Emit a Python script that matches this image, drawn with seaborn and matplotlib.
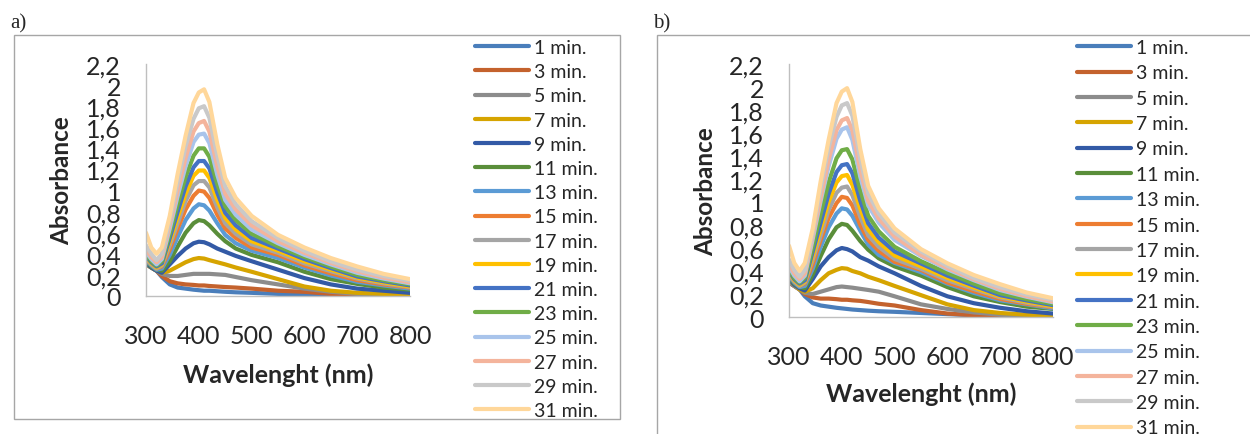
import numpy as np
import pandas as pd
import seaborn as sns
import matplotlib.pyplot as plt
from matplotlib.lines import Line2D
from matplotlib.patches import Rectangle

# wavelengths (nm)
wl = [300, 310, 320, 330, 345, 360, 375, 390, 400, 410, 420, 435, 450, 470, 500, 550, 600, 650, 700, 750, 800]

times = ['1 min.', '3 min.', '5 min.', '7 min.', '9 min.', '11 min.', '13 min.', '15 min.',
         '17 min.', '19 min.', '21 min.', '23 min.', '25 min.', '27 min.', '29 min.', '31 min.']

colors = ['#4A7EBB', '#C4622D', '#8C8C8C', '#D6A400', '#335AA6', '#5A8E3A', '#5B9BD5', '#ED7D31',
          '#A5A5A5', '#FFC000', '#4472C4', '#70AD47', '#A9C4EB', '#F4B49C', '#C9C9C9', '#FFD79A']

# panel a) absorbance
a01 = [0.32, 0.28, 0.24, 0.18, 0.11, 0.08, 0.07, 0.06, 0.055, 0.05, 0.05, 0.045, 0.04, 0.035, 0.03, 0.02, 0.015, 0.01, 0.005, 0.0, 0.0]
a03 = [0.31, 0.27, 0.24, 0.19, 0.14, 0.12, 0.11, 0.105, 0.10, 0.10, 0.095, 0.09, 0.085, 0.08, 0.07, 0.05, 0.04, 0.02, 0.01, 0.005, 0.0]
a05 = [0.30, 0.27, 0.24, 0.21, 0.19, 0.19, 0.20, 0.21, 0.21, 0.21, 0.21, 0.205, 0.20, 0.18, 0.15, 0.11, 0.07, 0.04, 0.02, 0.01, 0.01]
a07 = [0.30, 0.27, 0.24, 0.22, 0.24, 0.28, 0.32, 0.35, 0.36, 0.355, 0.34, 0.32, 0.30, 0.27, 0.23, 0.16, 0.09, 0.05, 0.03, 0.02, 0.01]
a09 = [0.31, 0.27, 0.24, 0.22, 0.30, 0.38, 0.45, 0.50, 0.515, 0.51, 0.49, 0.45, 0.42, 0.38, 0.33, 0.25, 0.17, 0.11, 0.07, 0.05, 0.03]
a11 = [0.33, 0.28, 0.25, 0.24, 0.33, 0.47, 0.60, 0.69, 0.72, 0.71, 0.67, 0.59, 0.52, 0.45, 0.39, 0.32, 0.23, 0.16, 0.115, 0.08, 0.06]
a13 = [0.34, 0.29, 0.25, 0.26, 0.39, 0.56, 0.72, 0.83, 0.87, 0.86, 0.81, 0.69, 0.58, 0.50, 0.43, 0.36, 0.27, 0.195, 0.135, 0.10, 0.07]
a15 = [0.35, 0.30, 0.26, 0.28, 0.44, 0.64, 0.82, 0.95, 1.00, 0.99, 0.93, 0.77, 0.64, 0.55, 0.46, 0.39, 0.29, 0.215, 0.15, 0.11, 0.08]
a17 = [0.36, 0.30, 0.26, 0.29, 0.48, 0.69, 0.90, 1.05, 1.09, 1.09, 1.03, 0.84, 0.69, 0.59, 0.49, 0.41, 0.31, 0.235, 0.165, 0.12, 0.085]
a19 = [0.37, 0.31, 0.27, 0.30, 0.52, 0.75, 0.97, 1.14, 1.19, 1.19, 1.12, 0.91, 0.74, 0.63, 0.52, 0.43, 0.33, 0.25, 0.175, 0.13, 0.09]
a21 = [0.38, 0.32, 0.28, 0.31, 0.55, 0.80, 1.04, 1.22, 1.28, 1.28, 1.21, 0.98, 0.79, 0.67, 0.55, 0.45, 0.35, 0.265, 0.185, 0.14, 0.10]
a23 = [0.40, 0.33, 0.29, 0.33, 0.59, 0.87, 1.13, 1.33, 1.40, 1.40, 1.32, 1.06, 0.85, 0.72, 0.59, 0.47, 0.37, 0.28, 0.20, 0.15, 0.11]
a25 = [0.42, 0.35, 0.30, 0.35, 0.64, 0.95, 1.23, 1.46, 1.53, 1.54, 1.45, 1.15, 0.91, 0.77, 0.63, 0.50, 0.39, 0.30, 0.22, 0.165, 0.12]
a27 = [0.44, 0.37, 0.32, 0.37, 0.68, 1.00, 1.31, 1.56, 1.64, 1.66, 1.56, 1.23, 0.97, 0.82, 0.67, 0.52, 0.41, 0.315, 0.235, 0.175, 0.13]
a29 = [0.48, 0.40, 0.34, 0.40, 0.72, 1.08, 1.42, 1.68, 1.78, 1.80, 1.69, 1.33, 1.04, 0.87, 0.71, 0.55, 0.43, 0.33, 0.25, 0.19, 0.145]
a31 = [0.60, 0.46, 0.40, 0.46, 0.76, 1.16, 1.52, 1.83, 1.93, 1.96, 1.84, 1.44, 1.12, 0.93, 0.76, 0.58, 0.46, 0.36, 0.28, 0.21, 0.16]

# panel b) absorbance
b01 = [0.30, 0.27, 0.24, 0.18, 0.12, 0.10, 0.09, 0.08, 0.075, 0.07, 0.065, 0.06, 0.055, 0.05, 0.045, 0.035, 0.025, 0.015, 0.01, 0.005, 0.0]
b03 = [0.30, 0.27, 0.24, 0.20, 0.17, 0.16, 0.16, 0.155, 0.15, 0.15, 0.145, 0.14, 0.13, 0.115, 0.10, 0.06, 0.03, 0.015, 0.01, 0.005, 0.0]
b05 = [0.31, 0.27, 0.24, 0.21, 0.20, 0.22, 0.24, 0.26, 0.265, 0.26, 0.255, 0.245, 0.235, 0.22, 0.18, 0.11, 0.07, 0.04, 0.02, 0.01, 0.01]
b07 = [0.32, 0.28, 0.24, 0.22, 0.25, 0.32, 0.38, 0.41, 0.425, 0.42, 0.40, 0.38, 0.35, 0.32, 0.27, 0.19, 0.11, 0.06, 0.035, 0.02, 0.01]
b09 = [0.33, 0.28, 0.25, 0.23, 0.33, 0.44, 0.52, 0.58, 0.60, 0.59, 0.57, 0.52, 0.49, 0.44, 0.38, 0.27, 0.18, 0.12, 0.08, 0.05, 0.03]
b11 = [0.35, 0.29, 0.26, 0.25, 0.37, 0.53, 0.675, 0.78, 0.81, 0.80, 0.75, 0.66, 0.585, 0.51, 0.44, 0.36, 0.26, 0.18, 0.13, 0.09, 0.07]
b13 = [0.36, 0.30, 0.26, 0.27, 0.42, 0.61, 0.78, 0.90, 0.945, 0.935, 0.88, 0.75, 0.63, 0.54, 0.47, 0.39, 0.29, 0.21, 0.145, 0.11, 0.075]
b15 = [0.37, 0.31, 0.27, 0.29, 0.46, 0.67, 0.86, 0.99, 1.045, 1.035, 0.97, 0.80, 0.67, 0.575, 0.48, 0.41, 0.30, 0.225, 0.157, 0.115, 0.084]
b17 = [0.38, 0.31, 0.27, 0.30, 0.50, 0.71, 0.93, 1.08, 1.125, 1.135, 1.06, 0.87, 0.71, 0.61, 0.505, 0.42, 0.32, 0.243, 0.17, 0.124, 0.088]
b19 = [0.39, 0.32, 0.28, 0.31, 0.535, 0.77, 1.00, 1.17, 1.225, 1.235, 1.15, 0.94, 0.76, 0.65, 0.535, 0.44, 0.34, 0.257, 0.18, 0.134, 0.093]
b21 = [0.40, 0.33, 0.29, 0.32, 0.57, 0.82, 1.07, 1.26, 1.32, 1.33, 1.25, 1.01, 0.815, 0.69, 0.57, 0.465, 0.36, 0.273, 0.19, 0.144, 0.103]
b23 = [0.42, 0.34, 0.30, 0.34, 0.61, 0.90, 1.17, 1.38, 1.45, 1.46, 1.37, 1.10, 0.88, 0.745, 0.61, 0.485, 0.383, 0.29, 0.207, 0.155, 0.114]
b25 = [0.44, 0.36, 0.31, 0.36, 0.68, 1.01, 1.31, 1.55, 1.63, 1.65, 1.54, 1.22, 0.97, 0.82, 0.67, 0.53, 0.415, 0.32, 0.234, 0.176, 0.128]
b27 = [0.46, 0.38, 0.33, 0.38, 0.71, 1.04, 1.365, 1.625, 1.71, 1.73, 1.625, 1.28, 1.01, 0.855, 0.70, 0.54, 0.427, 0.328, 0.245, 0.182, 0.135]
b29 = [0.50, 0.41, 0.35, 0.41, 0.74, 1.12, 1.47, 1.74, 1.84, 1.86, 1.75, 1.375, 1.075, 0.90, 0.735, 0.57, 0.445, 0.34, 0.26, 0.196, 0.15]
b31 = [0.62, 0.47, 0.40, 0.47, 0.77, 1.18, 1.54, 1.86, 1.96, 1.99, 1.87, 1.46, 1.14, 0.945, 0.77, 0.59, 0.467, 0.365, 0.285, 0.213, 0.163]

yticks = [0, 0.2, 0.4, 0.6, 0.8, 1.0, 1.2, 1.4, 1.6, 1.8, 2.0, 2.2]
ytick_labels = ['0', '0,2', '0,4', '0,6', '0,8', '1', '1,2', '1,4', '1,6', '1,8', '2', '2,2']
xticks = [300, 400, 500, 600, 700, 800]

panel_a = [a01, a03, a05, a07, a09, a11, a13, a15, a17, a19, a21, a23, a25, a27, a29, a31]
panel_b = [b01, b03, b05, b07, b09, b11, b13, b15, b17, b19, b21, b23, b25, b27, b29, b31]

sns.set_style('white')
plt.rcParams['font.family'] = ['Lato', 'DejaVu Sans']

W, H = 1250, 435
fig = plt.figure(figsize=(W / 100, H / 100), dpi=100)


def to_long(series):
    rows = []
    for t, vals in zip(times, series):
        for x, v in zip(wl, vals):
            rows.append((x, v, t))
    return pd.DataFrame(rows, columns=['wl', 'abs', 'time'])


def px_box(l, t, r, b):
    return [l / W, 1 - b / H, (r - l) / W, (b - t) / H]


def draw_panel(series, box, leg_xy, leg_space, ylab_x, xlab_y):
    ax = fig.add_axes(box)
    df = to_long(series)
    sns.lineplot(data=df, x='wl', y='abs', hue='time', hue_order=times, palette=colors,
                 lw=3, legend=False, estimator=None, sort=False, ax=ax)
    for ln in ax.get_lines():
        ln.set_solid_joinstyle('round')
        ln.set_solid_capstyle('round')
    ax.set_xlim(300, 800)
    ax.set_ylim(0, 2.2)
    ax.set_xticks(xticks)
    ax.set_xticklabels([str(x) for x in xticks])
    ax.set_yticks(yticks)
    ax.set_yticklabels(ytick_labels)
    ax.tick_params(axis='both', length=0, labelsize=18)
    ax.tick_params(axis='y', pad=18)
    ax.tick_params(axis='x', pad=20)
    for s in ['top', 'right']:
        ax.spines[s].set_visible(False)
    for s in ['left', 'bottom']:
        ax.spines[s].set_color('#BFBFBF')
        ax.spines[s].set_linewidth(1)
    ax.set_xlabel('Wavelenght (nm)', fontsize=18, fontweight='bold')
    ax.set_ylabel('Absorbance', fontsize=17.5, fontweight='bold')
    ax.yaxis.set_label_coords(ylab_x, 0.5)
    ax.xaxis.set_label_coords(0.5, xlab_y)
    handles = [Line2D([], [], color=c, lw=3) for c in colors]
    ax.legend(handles, times, loc='upper left', bbox_to_anchor=(leg_xy[0] / W, 1 - leg_xy[1] / H),
              bbox_transform=fig.transFigure, frameon=False, borderpad=0, borderaxespad=0,
              fontsize=14, handlelength=2.8, handletextpad=0.25, labelspacing=leg_space)
    return ax


# frames around each panel
fig.patches.append(Rectangle((14 / W, 1 - 420 / H), 606 / W, 384 / H, transform=fig.transFigure,
                             fill=False, edgecolor='#A6A6A6', lw=1))
fig.patches.append(Rectangle((657 / W, 1 - 460 / H), 650 / W, 424 / H, transform=fig.transFigure,
                             fill=False, edgecolor='#A6A6A6', lw=1))

draw_panel(panel_a, px_box(146, 65, 410, 297), (475, 40), 0.37, -0.2765, -0.285)
draw_panel(panel_b, px_box(789, 65, 1053, 318), (1077, 40), 0.43, -0.273, -0.255)

fig.text(10 / W, 1 - 28 / H, 'a)', family=['Liberation Serif'], fontsize=15, va='baseline')
fig.text(653 / W, 1 - 28 / H, 'b)', family=['Liberation Serif'], fontsize=15, va='baseline')

fig.savefig('out.png', dpi=100, facecolor='white')
